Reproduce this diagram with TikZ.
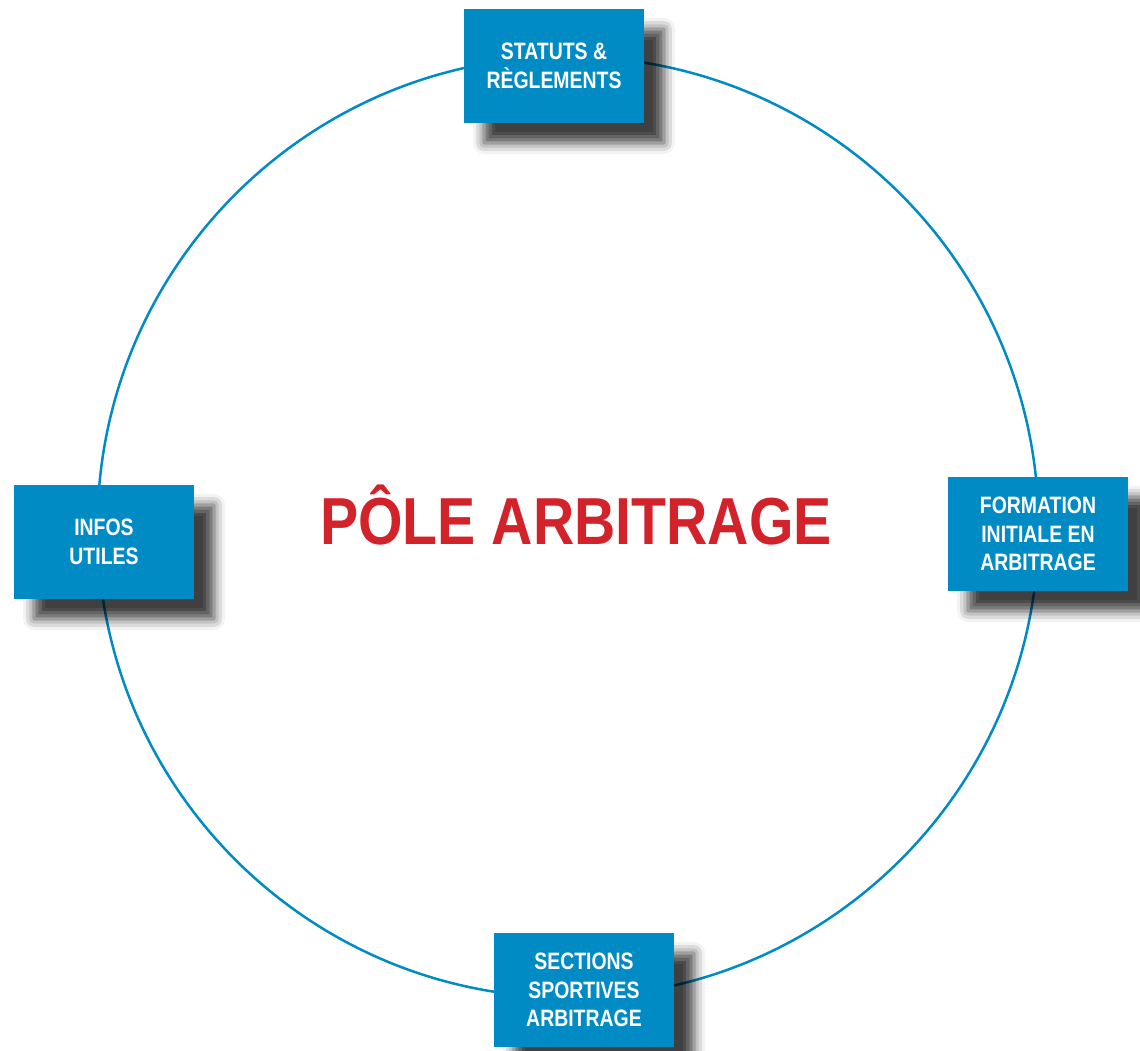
\documentclass[tikz,border=0pt]{standalone}
\usepackage{fontspec}
\newfontfamily\narrowfont[FakeStretch=0.82]{Liberation Sans}
\newfontfamily\titlefont[FakeStretch=0.86]{Liberation Sans}
\usetikzlibrary{shadows.blur}
\definecolor{poleblue}{RGB}{0,139,197}
\definecolor{polered}{RGB}{210,35,42}

\begin{document}
\begin{tikzpicture}[x=1pt,y=-1pt]
\tikzstyle{every node}+=[inner sep=0pt]
\tikzstyle{topic}=[fill=poleblue, minimum width=180pt, minimum height=114pt,
  text=white, align=center, font=\narrowfont\bfseries\fontsize{23.7}{28.5}\selectfont,
  blur shadow={shadow xshift=20pt, shadow yshift=-20pt, shadow blur radius=11pt, shadow opacity=75}]
\useasboundingbox (0,0) rectangle (1140,1051);
\draw [poleblue, line width=2.5pt] (568,527) circle (470.5);
\node (title) at (576,544.5) [anchor=base, text=polered, font=\titlefont\bfseries\fontsize{66.5}{80}\selectfont] {PÔLE ARBITRAGE};
\node (statuts) at (554,66) [topic] {STATUTS \&\\RÈGLEMENTS};
\node (formation) at (1038,534) [topic] {FORMATION\\INITIALE EN\\ARBITRAGE};
\node (sections) at (584,990) [topic] {SECTIONS\\SPORTIVES\\ARBITRAGE};
\node (infos) at (104,542) [topic] {INFOS\\UTILES};
\end{tikzpicture}
\end{document}
